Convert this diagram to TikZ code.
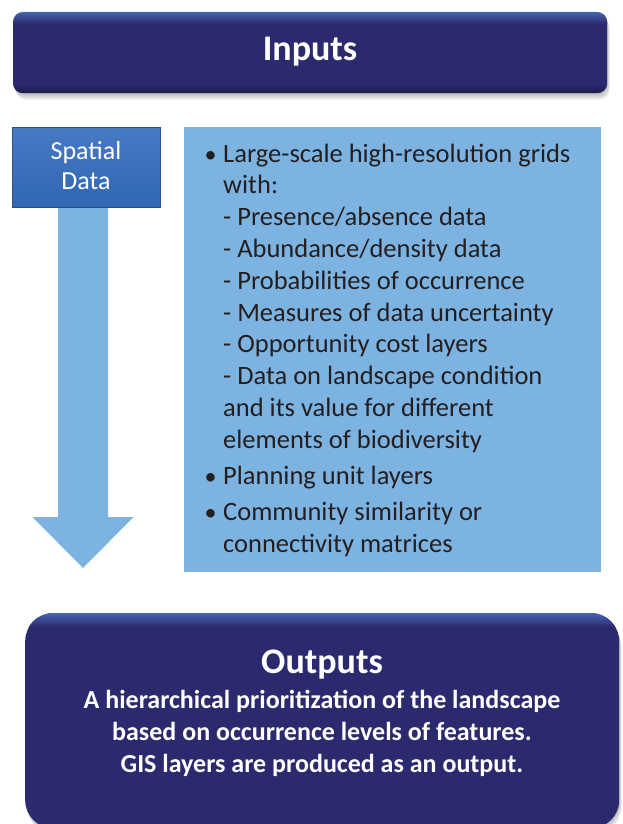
\documentclass[tikz,border=0pt]{standalone}
\usepackage{fontspec}
\setmainfont{Carlito}
\usetikzlibrary{calc}
\definecolor{navy}{RGB}{43,42,110}
\definecolor{navyhi}{RGB}{70,100,175}
\definecolor{navylo}{RGB}{28,27,78}
\definecolor{sdtop}{RGB}{72,122,196}
\definecolor{sdbot}{RGB}{48,102,178}
\definecolor{sdedge}{RGB}{44,80,135}
\definecolor{lightblue}{RGB}{125,179,225}
\definecolor{ink}{RGB}{35,31,32}
\tikzset{
  listline/.style={anchor=base west, inner sep=0pt, text=ink, font=\fontsize{26.5}{31.8}\selectfont},
  bulletmark/.style={anchor=base, inner sep=0pt, text=ink, font=\fontsize{24}{31.8}\selectfont},
  outline/.style={anchor=base, inner sep=0pt, text=white, font=\bfseries\fontsize{26}{32}\selectfont},
  sdline/.style={anchor=base, inner sep=0pt, text=white, font=\fontsize{26}{30}\selectfont},
  titletext/.style={anchor=base, inner sep=0pt, text=white, font=\bfseries\fontsize{36}{40}\selectfont},
  navybox/.style={fill=navy, inner sep=0pt, anchor=north west},
}
\begin{document}
\begin{tikzpicture}[x=1pt,y=-1pt]
\useasboundingbox (0,0) rectangle (623,824);
% ---------- Inputs ----------
\foreach \o in {1,...,7}
  \fill[black, opacity=0.045, rounded corners=10pt] (13+0.4*\o,12+\o) rectangle (607+0.4*\o,93+\o);
\node[navybox, rounded corners=10pt, minimum width=594pt, minimum height=81pt] (inbox) at (13,12) {};
\begin{scope}
  \clip[rounded corners=10pt] (13,12) rectangle (607,93);
  \shade[top color=navyhi, bottom color=navy] (13,12) rectangle (607,24);
  \shade[top color=navy, bottom color=navylo] (13,84) rectangle (607,93);
\end{scope}
\node[titletext] (intext) at (310,61) {Inputs};
% ---------- Arrow ----------
\fill[lightblue] (58,200) -- (108,200) -- (108,517) -- (133.5,517) -- (83,568)
  -- (32.5,517) -- (58,517) -- cycle;
% ---------- Spatial Data ----------
\node[draw=sdedge, line width=1pt, top color=sdtop, bottom color=sdbot, inner sep=0pt,
  minimum width=148pt, minimum height=80pt, anchor=north west] (sd) at (12,127) {};
\node[sdline] (sd1) at (86,159) {Spatial};
\node[sdline] (sd2) at (86,189) {Data};
% ---------- List box ----------
\node[fill=lightblue, inner sep=0pt, minimum width=417pt, minimum height=445pt,
  anchor=north west] (list) at (184,127) {};
\node[bulletmark] (b1) at (210.5,162) {•};
\node[listline] (l1) at (223,162) {Large-scale high-resolution grids};
\node[listline] (l2) at (223,193.8) {with:};
\node[listline] (l3) at (223,225.6) {- Presence/absence data};
\node[listline] (l4) at (223,257.4) {- Abundance/density data};
\node[listline] (l5) at (223,289.2) {- Probabilities of occurrence};
\node[listline] (l6) at (223,321) {- Measures of data uncertainty};
\node[listline] (l7) at (223,352.8) {- Opportunity cost layers};
\node[listline] (l8) at (223,384.6) {- Data on landscape condition};
\node[listline] (l9) at (223,416.4) {and its value for different};
\node[listline] (l10) at (223,448.2) {elements of biodiversity};
\node[bulletmark] (b2) at (210.5,484) {•};
\node[listline] (l11) at (223,484) {Planning unit layers};
\node[bulletmark] (b3) at (210.5,520) {•};
\node[listline] (l12) at (223,520) {Community similarity or};
\node[listline] (l13) at (223,552) {connectivity matrices};
% ---------- Outputs ----------
\foreach \o in {1,...,7}
  \fill[black, opacity=0.045, rounded corners=28pt] (25+0.4*\o,613+\o) rectangle (619+0.4*\o,828+\o);
\node[navybox, rounded corners=28pt, minimum width=594pt, minimum height=215pt] (outbox) at (25,613) {};
\begin{scope}
  \clip[rounded corners=28pt] (25,613) rectangle (619,828);
  \shade[top color=navyhi, bottom color=navy] (25,613) rectangle (619,627);
\end{scope}
\node[titletext] (outtext) at (322,673) {Outputs};
\node[outline] (o1) at (322,708) {A hierarchical prioritization of the landscape};
\node[outline] (o2) at (322,740) {based on occurrence levels of features.};
\node[outline] (o3) at (322,772) {GIS layers are produced as an output.};
\end{tikzpicture}
\end{document}
